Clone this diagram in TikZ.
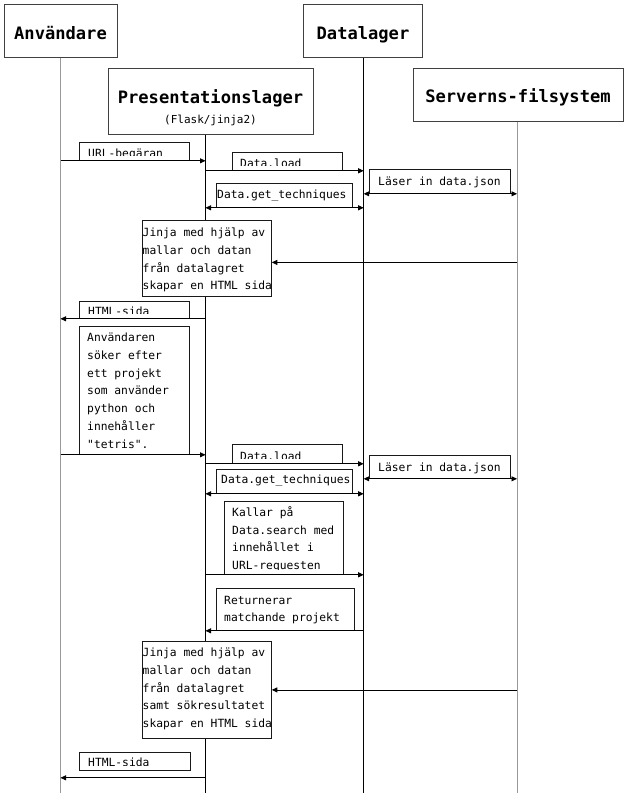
\documentclass[tikz,border=0pt]{standalone}
\usepackage{fontspec}
\usetikzlibrary{arrows.meta}
\newfontfamily\monofnt{DejaVu Sans Mono}

\tikzset{
  head/.style={draw=black!75, line width=0.9pt, fill=white, inner sep=0pt, anchor=north west},
  headtxt/.style={inner sep=0pt, anchor=base, font=\monofnt\bfseries\fontsize{17.1}{20}\selectfont},
  subtxt/.style={inner sep=0pt, anchor=base, font=\monofnt\fontsize{11}{13}\selectfont},
  lifeblack/.style={line width=0.8pt, black},
  lifegray/.style={line width=0.8pt, black!40},
  lblboxsty/.style={draw=black!90, line width=0.8pt, fill=white, inner sep=0pt, anchor=north west},
  lbltxt/.style={inner sep=0pt, anchor=base west, text width=250pt,
    font=\monofnt\fontsize{11.3}{17.8}\selectfont,
    execute at begin node={\spaceskip=0.602em\relax\xspaceskip=0.602em\relax}},
  msg/.style={line width=0.8pt, -{Triangle[length=5.5pt,width=5pt]}},
  msgtwo/.style={line width=0.8pt, {Triangle[length=5.5pt,width=5pt]}-{Triangle[length=5.5pt,width=5pt]}},
}

% #1 name, #2 x1, #3 y1, #4 x2, #5 y2, #6 text x, #7 first baseline, #8 text
\newcommand\lblbox[8]{%
  \node[lblboxsty, minimum width={(#4-#2)*1pt}, minimum height={(#5-#3)*1pt}] (#1) at (#2,#3) {};
  \begin{scope}
    \clip (#2,#3) rectangle (#4,#5-4.5);
    \node[lbltxt] (#1t) at (#6,#7) {#8};
  \end{scope}}

\begin{document}
\begin{tikzpicture}[x=1pt,y=-1pt]
\fill[white] (0,0) rectangle (630,793);
\useasboundingbox (0,0) rectangle (630,793);

% lifeline positions
\coordinate (LU) at (60.5,0);
\coordinate (LP) at (205.5,0);
\coordinate (LD) at (363.7,0);
\coordinate (LS) at (517,0);
\coordinate (bot) at (0,793);

% headers
\node[head, minimum width=113pt, minimum height=53pt] (user) at (4,4) {};
\node[headtxt] (usert) at (60.5,39) {Användare};
\node[head, minimum width=205pt, minimum height=66pt] (pres) at (108,68) {};
\node[headtxt] (prest) at (210.5,103) {Presentationslager};
\node[subtxt] (press) at (210.5,123.5) {(Flask/jinja2)};
\node[head, minimum width=119pt, minimum height=53pt] (data) at (303,4) {};
\node[headtxt] (datat) at (363,39.4) {Datalager};
\node[head, minimum width=210pt, minimum height=53pt] (serv) at (413,68) {};
\node[headtxt] (servt) at (518,102.4) {Serverns-filsystem};

% lifelines
\draw[lifegray] (LU |- user.south) -- (LU |- bot);
\draw[lifeblack] (LP |- pres.south) -- (LP |- bot);
\draw[lifeblack] (LD |- data.south) -- (LD |- bot);
\draw[lifegray] (LS |- serv.south) -- (LS |- bot);

% label boxes
\lblbox{url}{79}{142}{189}{160}{88}{157}{URL-begäran}
\lblbox{loadA}{232}{152}{342}{170}{240}{167}{Data.load}
\lblbox{readA}{369}{169}{510}{193}{378}{185.5}{Läser in data.json}
\lblbox{techA}{216}{183}{352}{207}{217}{198}{Data.get\_techniques}
\lblbox{jinA}{142}{220}{271}{296}{142.5}{236.5}{Jinja med hjälp av\\mallar och datan\\från datalagret\\skapar en HTML sida}
\lblbox{htmlA}{79}{301}{189}{318}{88}{315}{HTML-sida}
\lblbox{search}{79}{326}{189}{454}{87}{341.5}{Användaren\\söker efter\\ett projekt\\som använder\\python och\\innehåller\\"tetris".}
\lblbox{loadB}{232}{444}{342}{463}{240}{460}{Data.load}
\lblbox{readB}{369}{455}{510}{478}{378}{471}{Läser in data.json}
\lblbox{techB}{216}{469}{352}{493}{221}{483.5}{Data.get\_techniques}
\lblbox{call}{224}{501}{343}{574}{232}{516.2}{Kallar på\\Data.search med\\innehållet i\\URL-requesten}
\lblbox{ret}{216}{588}{354}{630}{224}{604}{Returnerar\\matchande projekt}
\lblbox{jinB}{142}{641}{271}{738}{142.5}{656.5}{Jinja med hjälp av\\mallar och datan\\från datalagret\\samt sökresultatet\\skapar en HTML sida}
\lblbox{htmlB}{79}{752}{190}{770}{88}{766}{HTML-sida}

% messages
\draw[msg] (LU |- url.south) -- (LP |- url.south);
\draw[msg] (LP |- loadA.south) -- (LD |- loadA.south);
\draw[msgtwo] (LD |- readA.south) -- (LS |- readA.south);
\draw[msgtwo] (LP |- techA.south) -- (LD |- techA.south);
\path ([yshift=-4pt]jinA.east) coordinate (jA);
\draw[msg] (LS |- jA) -- (jA);
\draw[msg] (LP |- htmlA.south) -- (LU |- htmlA.south);
\draw[msg] (LU |- search.south) -- (LP |- search.south);
\draw[msg] (LP |- loadB.south) -- (LD |- loadB.south);
\draw[msgtwo] (LD |- readB.south) -- (LS |- readB.south);
\draw[msgtwo] (LP |- techB.south) -- (LD |- techB.south);
\draw[msg] (LP |- call.south) -- (LD |- call.south);
\draw[msg] (LD |- ret.south) -- (LP |- ret.south);
\draw[msg] (LS |- jinB.east) -- (jinB.east);
\path ([yshift=-7pt]htmlB.south) coordinate (hB);
\draw[msg] (LP |- hB) -- (LU |- hB);
\end{tikzpicture}
\end{document}
